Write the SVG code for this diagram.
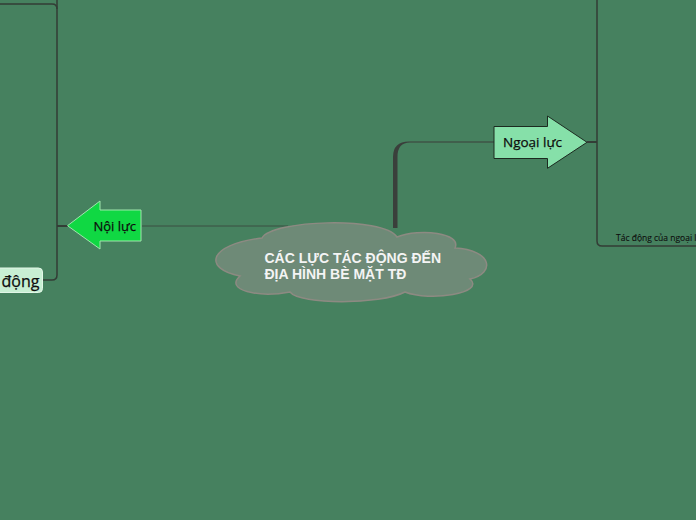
<svg xmlns="http://www.w3.org/2000/svg" width="696" height="520" viewBox="0 0 696 520">
  <style>
    .conn { fill: none; stroke: #333d36; stroke-width: 1.5; }
    .thin { fill: none; stroke: #3a4f42; stroke-width: 1; }
    .lbl { font-family: "Open Sans", "Noto Sans", sans-serif; fill: #0d0d0d; stroke: #0d0d0d; stroke-width: 0.25; }
    .cloudtxt { font-family: "Liberation Sans", Arial, sans-serif; font-weight: bold; font-size: 14px; fill: #f4f4f4; }
  </style>
  <rect x="0" y="0" width="696" height="520" fill="#46815f"/>
  <g id="connectors">
    <path class="thin" d="M 288 226 L 142 226"/>
    <path d="M 393 228 L 393 157 Q 393 141.4 409 141.4 L 494 141.4 L 494 142.6 L 410 142.6 Q 397.5 142.6 397.5 157 L 397.5 228 Z" fill="#3a3f3b"/>
    <path class="conn" d="M 68 226 L 57 226" style="stroke-width:2"/>
    <path class="conn" d="M 57 0 L 57 275 Q 57 280 52 280 L 42 280"/>
    <path class="conn" d="M 0 4 L 52 4 Q 57 4 57 9"/>
    <path class="conn" d="M 587 142 L 597 142" style="stroke-width:2"/>
    <path class="conn" d="M 597 0 L 597 241 Q 597 246 602 246 L 696 246"/>
  </g>
  <g id="center">
    <path d="M 262 238 C 272 220, 383 216, 397 237 C 420 228, 462 233, 455 248 C 492 250, 496 273, 470 279 C 486 293, 430 302, 405 292 C 380 305, 300 305, 290 292 C 258 298, 224 290, 240 276 C 204 269, 206 245, 262 238 Z" fill="#6e8a77" stroke="#8d8a82" stroke-width="1.5"/>
    <text class="cloudtxt" x="264.5" y="262.5">CÁC LỰC TÁC ĐỘNG ĐẾN</text>
    <text class="cloudtxt" x="264.5" y="278.5">ĐỊA HÌNH BÈ MẶT TĐ</text>
  </g>
  <g id="noi-luc">
    <path d="M 67.5 225.7 L 100 201 L 100 210 L 141 210 L 141 241 L 100 241 L 100 249 Z" fill="#10d843" stroke="#9fe6ad" stroke-width="1"/>
    <text class="lbl" x="93.5" y="231" font-size="13">Nội lực</text>
  </g>
  <g id="ngoai-luc">
    <path d="M 494 126.5 L 547.5 126.5 L 547.5 116 L 587 142.3 L 547.5 168.3 L 547.5 158.5 L 494 158.5 Z" fill="#86e0a9" stroke="#1c2a20" stroke-width="1"/>
    <text class="lbl" x="503" y="147" font-size="13.5">Ngoại lực</text>
  </g>
  <g id="dong">
    <rect x="-6" y="268" width="48.5" height="24.5" rx="4" fill="#c8efd3" stroke="#e2f7e7" stroke-width="1"/>
    <text class="lbl" x="1.5" y="287" font-size="16">động</text>
  </g>
  <g id="tac-dong">
    <text class="lbl" x="616" y="241" font-size="8.5" style="stroke-width:0.1">Tác động của ngoại lực</text>
  </g>
</svg>
